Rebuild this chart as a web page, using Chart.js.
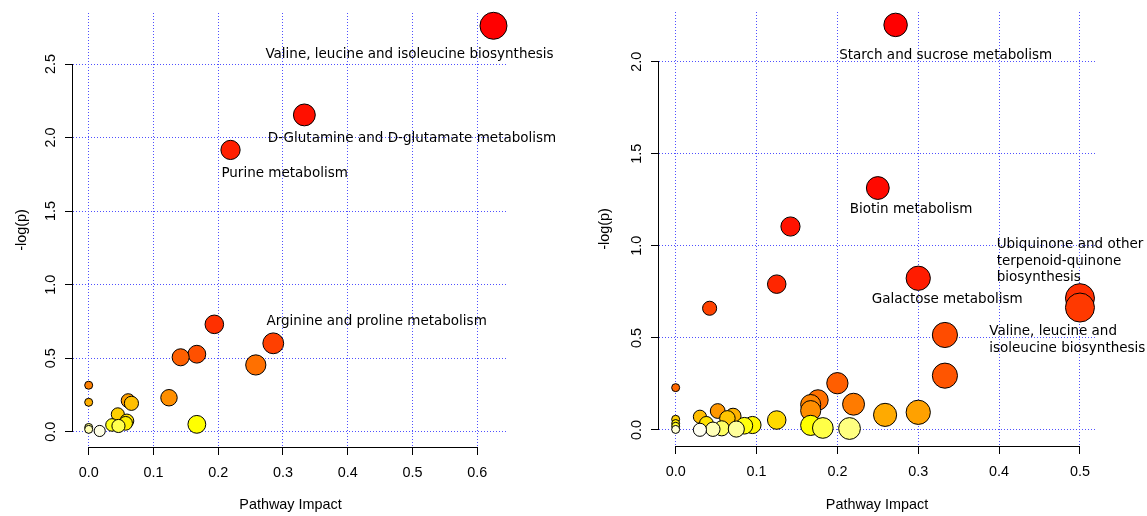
<!DOCTYPE html>
<html>
<head>
<meta charset="utf-8">
<script src="https://cdn.jsdelivr.net/npm/chart.js@4"></script>
<style>
  html, body { margin: 0; padding: 0; background: #fff; }
  #wrap { position: relative; width: 1147px; height: 516px; }
  #left { position: absolute; left: 0; top: 0; }
  #right { position: absolute; left: 574px; top: 0; }
</style>
</head>
<body>
<div id="wrap">
  <canvas id="left" width="574" height="516"></canvas>
  <canvas id="right" width="573" height="516"></canvas>
</div>
<script>
// left panel: pathway impact (x) and -log(p) (y), sorted by -log(p) descending
const leftImpact = [0.625, 0.333, 0.219, 0.194, 0.285, 0.167, 0.142, 0.258, 0, 0.124, 0.061, 0,
  0.066, 0.045, 0.059, 0.057, 0.167, 0.036, 0.046, 0, 0, 0.017];
const leftLogP = [2.76, 2.154, 1.916, 0.73, 0.601, 0.527, 0.506, 0.454, 0.316, 0.231, 0.211, 0.2,
  0.193, 0.118, 0.073, 0.057, 0.05, 0.046, 0.039, 0.029, 0.016, 0.005];

// right panel
const rightImpact = [0.272, 0.250, 0.142, 0.300, 0.125, 0.500, 0.500, 0.042, 0.333, 0.333, 0.200, 0,
  0.176, 0.220, 0.167, 0.167, 0.052, 0.300, 0.259, 0.071, 0.030, 0.064, 0, 0.125, 0.038, 0,
  0.095, 0.167, 0.085, 0, 0.182, 0.057, 0.215, 0.075, 0.046, 0, 0.030];
const rightLogP = [2.20, 1.314, 1.105, 0.824, 0.792, 0.716, 0.665, 0.661, 0.516, 0.295, 0.254, 0.230,
  0.163, 0.140, 0.138, 0.105, 0.103, 0.096, 0.082, 0.075, 0.072, 0.063, 0.058, 0.054, 0.036, 0.035,
  0.027, 0.025, 0.023, 0.020, 0.011, 0.009, 0.008, 0.005, 0.004, 0.003, 0.001];

// tick values and labels
const leftXTicks = [0, 0.1, 0.2, 0.3, 0.4, 0.5, 0.6];
const leftXTickLabels = ["0.0", "0.1", "0.2", "0.3", "0.4", "0.5", "0.6"];
const leftYTicks = [0, 0.5, 1, 1.5, 2, 2.5];
const leftYTickLabels = ["0.0", "0.5", "1.0", "1.5", "2.0", "2.5"];
const rightXTicks = [0, 0.1, 0.2, 0.3, 0.4, 0.5];
const rightXTickLabels = ["0.0", "0.1", "0.2", "0.3", "0.4", "0.5"];
const rightYTicks = [0, 0.5, 1, 1.5, 2];
const rightYTickLabels = ["0.0", "0.5", "1.0", "1.5", "2.0"];

// pathway names, anchored in data units
const leftNotes = ["Valine, leucine and isoleucine biosynthesis", "D-Glutamine and D-glutamate metabolism",
  "Purine metabolism", "Arginine and proline metabolism"];
const leftNoteX = [0.4953, 0.4992, 0.3025, 0.4446];
const leftNoteY = [2.568, 1.995, 1.757, 0.748];
const leftNoteAlign = ["center", "center", "center", "center"];

const rightNotes = ["Starch and sucrose metabolism", "Biotin metabolism",
  "Ubiquinone and other\nterpenoid-quinone\nbiosynthesis", "Galactose metabolism",
  "Valine, leucine and\nisoleucine biosynthesis"];
const rightNoteX = [0.334, 0.2912, 0.397, 0.3358, 0.3878];
const rightNoteY = [2.036, 1.195, 1.007, 0.706, 0.534];
const rightNoteAlign = ["center", "center", "left", "center", "left"];

// R heat.colors(n)
function heatColors(n) {
  const j = Math.floor(n / 4);
  const i = n - j;
  const out = [];
  for (let k = 0; k < i; k++) {
    const g = i > 1 ? k / (i - 1) : 0;
    out.push("rgb(255," + Math.round(g * 255) + ",0)");
  }
  for (let k = 0; k < j; k++) {
    const s = 1 - 1 / (2 * j) - k / j;
    out.push("rgb(255,255," + Math.round((1 - s) * 255) + ")");
  }
  return out;
}

// R style axis lines, only from first to last tick
const axisLines = {
  id: "axisLines",
  afterDraw(chart) {
    const { ctx, chartArea, scales } = chart;
    const x = scales.x, y = scales.y;
    const xt = x.ticks, yt = y.ticks;
    const bx = Math.round(chartArea.left) - 0.5;
    const by = Math.round(chartArea.bottom) + 0.5;
    ctx.save();
    ctx.strokeStyle = "#000";
    ctx.lineWidth = 1;
    ctx.beginPath();
    ctx.moveTo(x.getPixelForValue(xt[0].value), by);
    ctx.lineTo(x.getPixelForValue(xt[xt.length - 1].value), by);
    ctx.moveTo(bx, y.getPixelForValue(yt[0].value));
    ctx.lineTo(bx, y.getPixelForValue(yt[yt.length - 1].value));
    ctx.stroke();
    ctx.restore();
  },
};

function notesPlugin(texts, xs, ys, aligns) {
  return {
    id: "notes",
    afterDatasetsDraw(chart) {
      const { ctx, scales } = chart;
      ctx.save();
      ctx.font = '13.5px "DejaVu Sans"';
      ctx.fillStyle = "#000";
      ctx.textBaseline = "middle";
      texts.forEach((t, i) => {
        ctx.textAlign = aligns[i];
        const px = scales.x.getPixelForValue(xs[i]);
        const py = scales.y.getPixelForValue(ys[i]);
        t.split("\n").forEach((line, k) => ctx.fillText(line, px, py + k * 16.5));
      });
      ctx.restore();
    },
  };
}

const tickFont = { family: "Liberation Sans", size: 14.4 };
const gridBlue = "rgb(80,80,255)";

function pathwayChart(el, impact, logP, o) {
  const pts = impact.map((v, i) => ({ x: v, y: logP[i] }));
  pts.sort((a, b) => b.y - a.y);
  const colors = heatColors(pts.length);
  const xMax = Math.max(...impact);

  return new Chart(el, {
    type: "bubble",
    data: {
      datasets: [
        {
          data: pts,
          backgroundColor: (c) => colors[c.dataIndex],
          borderColor: "#000",
          borderWidth: 1,
          radius: (c) => 4 + (o.rMax - 4) * Math.sqrt(c.raw.x / xMax),
          clip: false,
        },
      ],
    },
    options: {
      responsive: false,
      animation: false,
      events: [],
      layout: { autoPadding: false, padding: { left: 0, top: o.top, right: o.right, bottom: 0 } },
      plugins: { legend: { display: false }, tooltip: { enabled: false } },
      scales: {
        x: {
          type: "linear",
          min: o.xMin,
          max: o.xMax,
          afterBuildTicks: (s) => { s.ticks = o.xTicks.map((v) => ({ value: v })); },
          afterFit: (s) => {
            s.height = o.xHeight;
            s.paddingLeft = 0;
            s.paddingRight = 0;
          },
          ticks: {
            autoSkip: false,
            maxRotation: 0,
            padding: 9.4,
            color: "#000",
            font: tickFont,
            callback: (v, i) => o.xTickLabels[i],
          },
          grid: { color: gridBlue, tickColor: "#000", tickLength: 8, tickWidth: 1 },
          border: { display: false, dash: [1, 2] },
          title: {
            display: true,
            text: "Pathway Impact",
            color: "#000",
            font: tickFont,
            padding: { top: 0, bottom: 2.4 },
          },
        },
        y: {
          type: "linear",
          min: o.yMin,
          max: o.yMax,
          afterBuildTicks: (s) => { s.ticks = o.yTicks.map((v) => ({ value: v })); },
          afterFit: (s) => {
            s.width = o.yWidth;
            s.paddingTop = 0;
            s.paddingBottom = 0;
          },
          ticks: {
            autoSkip: false,
            minRotation: 90,
            maxRotation: 90,
            crossAlign: "center",
            padding: 4,
            color: "#000",
            font: tickFont,
            callback: (v, i) => o.yTickLabels[i],
          },
          grid: { color: gridBlue, tickColor: "#000", tickLength: 8, tickWidth: 1 },
          border: { display: false, dash: [1, 2] },
          title: {
            display: true,
            text: "-log(p)",
            color: "#000",
            font: tickFont,
            padding: { top: o.yTitlePad, bottom: 0 },
          },
        },
      },
    },
    plugins: [axisLines, notesPlugin(o.notes, o.noteX, o.noteY, o.noteAlign)],
  });
}

pathwayChart(document.getElementById("left"), leftImpact, leftLogP, {
  xMin: -0.0242, xMax: 0.6474, yMin: -0.104, yMax: 2.847,
  top: 13, right: 66, xHeight: 69, yWidth: 73, yTitlePad: 13.4, rMax: 13.5,
  xTicks: leftXTicks, xTickLabels: leftXTickLabels,
  yTicks: leftYTicks, yTickLabels: leftYTickLabels,
  notes: leftNotes, noteX: leftNoteX, noteY: leftNoteY, noteAlign: leftNoteAlign,
});

pathwayChart(document.getElementById("right"), rightImpact, rightLogP, {
  xMin: -0.0206, xMax: 0.5186, yMin: -0.087, yMax: 2.27,
  top: 12, right: 52, xHeight: 70, yWidth: 85, yTitlePad: 22.4, rMax: 14.5,
  xTicks: rightXTicks, xTickLabels: rightXTickLabels,
  yTicks: rightYTicks, yTickLabels: rightYTickLabels,
  notes: rightNotes, noteX: rightNoteX, noteY: rightNoteY, noteAlign: rightNoteAlign,
});
</script>
</body>
</html>
